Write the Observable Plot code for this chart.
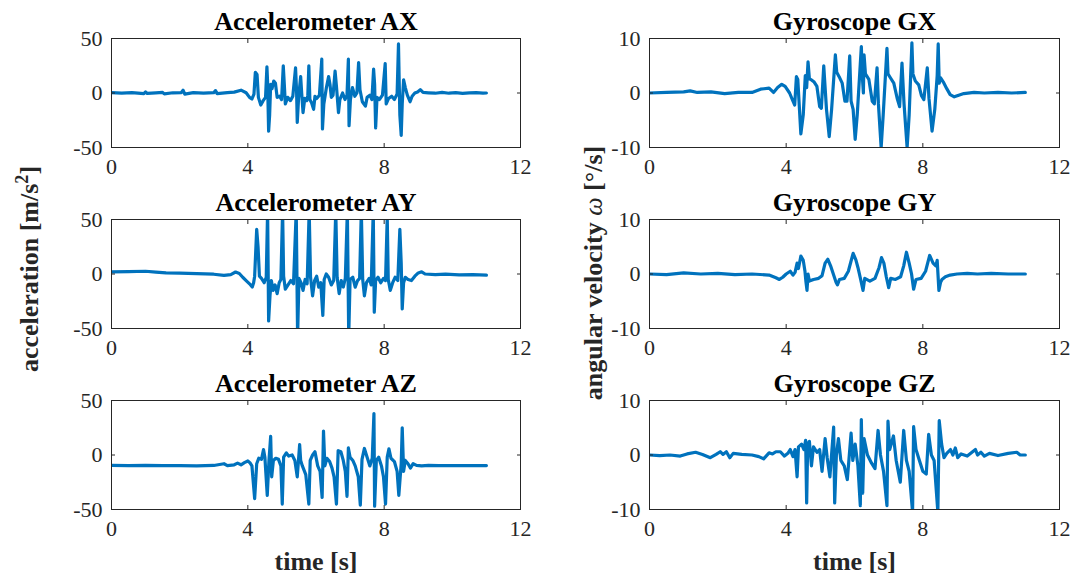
<!DOCTYPE html>
<html>
<head>
<meta charset="utf-8">
<script src="https://cdn.jsdelivr.net/npm/d3@7"></script>
<script src="https://cdn.jsdelivr.net/npm/@observablehq/plot@0.6"></script>
<style>
  body { margin: 0; background: #fff; font-family: "Liberation Serif", "Times New Roman", serif; }
  #fig { position: relative; width: 1072px; height: 579px; background: #fff;
         font-family: "Liberation Serif", "Times New Roman", serif; color: #262626; }
  #fig svg, #fig svg text { font-family: "Liberation Serif", "Times New Roman", serif !important; }
  .panel { position: absolute; }
  .ylabel { position: absolute; white-space: nowrap; font-weight: bold; font-size: 26px;
            font-family: "Liberation Serif", "Times New Roman", serif;
            line-height: 1; transform: translate(-50%, -50%) rotate(-90deg); }
  .ylabel sup { font-size: 0.7em; line-height: 0; vertical-align: 0.55em; }
  .ylabel i { font-weight: normal; }
</style>
</head>
<body>
<div id="fig"></div>
<script>
// IMU recording: time [s] vs. sensor reading, [t, value] pairs per channel.
const accX = [
  [0,0.3],[0.3,-0.2],[0.6,0.3],[0.95,-0.6],[1.0,1.0],[1.05,-0.4],[1.3,0.2],[1.5,0.5],[1.55,-0.8],[1.8,0.2],
  [2.05,0.4],[2.1,2.5],[2.15,-1.0],[2.4,0.3],[2.7,-0.2],[3.0,0.3],[3.05,2.2],[3.1,-0.6],[3.4,0.4],[3.6,0.8],
  [3.8,2.6],[3.95,0.2],[4.05,-4],[4.12,-5.5],[4.18,-1],[4.22,19],[4.27,17],[4.31,-4],[4.38,-11],[4.45,-7],
  [4.52,-4],[4.56,24],[4.58,10],[4.61,-35],[4.64,-20],[4.67,8],[4.71,4],[4.76,11],[4.81,9],[4.86,-4],
  [4.93,-3],[4.99,-6],[5.04,25],[5.07,8],[5.1,-10],[5.17,-4],[5.25,-7],[5.32,-3],[5.4,23],[5.43,2],
  [5.45,-27],[5.49,-4],[5.55,15],[5.58,0],[5.62,-18],[5.67,-5],[5.73,-7],[5.76,-2],[5.79,25],[5.82,-6],
  [5.87,-9],[5.93,-15],[5.97,-3],[6.02,-5],[6.1,-2],[6.17,31],[6.19,-33],[6.23,-10],[6.3,4],[6.37,15],
  [6.41,8],[6.45,-4],[6.5,-2],[6.56,20],[6.6,6],[6.66,-18],[6.7,-6],[6.78,0],[6.85,-6],[6.91,-2],
  [6.95,31],[6.97,-30],[7.01,-6],[7.07,5],[7.14,-3],[7.2,0],[7.25,28],[7.29,3],[7.36,-8],[7.45,-12],
  [7.5,-4],[7.58,-2],[7.64,-6],[7.69,22],[7.72,8],[7.75,-32],[7.79,-4],[7.86,-6],[7.95,-2],[8.03,27],
  [8.06,-10],[8.13,-5],[8.22,-3],[8.3,-6],[8.38,-1],[8.42,45],[8.46,-20],[8.5,-39],[8.53,-10],[8.57,12],
  [8.62,5],[8.68,-2],[8.76,-8],[8.82,-3],[8.9,0],[8.98,1],[9.06,3],[9.14,0.5],[9.3,0.2],[9.5,-0.2],
  [9.7,0.5],[9.9,-0.2],[10.1,0.3],[10.3,-0.3],[10.5,0.2],[10.7,0.3],[10.9,-0.2],[11.0,0]
];
const accY = [
  [0,2],[0.5,2.2],[1.0,2.5],[1.3,1.8],[1.6,1],[2.0,0.8],[2.5,0.3],[3.0,-0.2],[3.3,-1.2],[3.5,-0.5],
  [3.64,1.8],[3.75,0.5],[3.85,-3],[3.95,-6],[4.05,-9],[4.13,-12],[4.17,-8],[4.2,-2],[4.26,41],[4.3,25],
  [4.34,-2],[4.4,-4],[4.48,-8],[4.54,-3],[4.58,58],[4.61,-43],[4.65,-20],[4.69,-6],[4.74,-15],[4.8,-10],
  [4.86,-18],[4.92,-8],[4.97,-5],[5.02,58],[5.05,-2],[5.1,-14],[5.18,-10],[5.26,-6],[5.34,-9],[5.42,58],
  [5.46,-58],[5.5,-4],[5.56,-8],[5.62,-15],[5.68,-5],[5.74,-9],[5.8,58],[5.84,-3],[5.9,-20],[5.96,-6],
  [6.02,-2],[6.08,-12],[6.14,-8],[6.2,-38],[6.24,-5],[6.3,0],[6.37,-3],[6.45,-10],[6.52,-6],[6.58,58],
  [6.62,-3],[6.68,-18],[6.74,-6],[6.8,-12],[6.86,-4],[6.92,58],[6.96,-58],[7.0,-5],[7.08,-3],[7.15,-12],
  [7.22,-6],[7.28,-4],[7.33,58],[7.37,-5],[7.42,-20],[7.48,-8],[7.56,-4],[7.62,-10],[7.68,58],[7.71,-35],
  [7.75,-6],[7.82,-3],[7.9,-8],[7.98,-4],[8.04,-6],[8.09,52],[8.12,-5],[8.18,-15],[8.25,-8],[8.32,-3],
  [8.4,-6],[8.46,41],[8.5,10],[8.53,-32],[8.57,-8],[8.62,-3],[8.7,-5],[8.8,-6],[8.9,-2],[9.0,1],
  [9.1,2],[9.2,0],[9.5,-0.5],[9.8,-0.2],[10.2,-0.8],[10.6,-0.5],[11,-1]
];
const accZ = [
  [0,-9.6],[0.5,-9.8],[1.0,-9.5],[1.5,-9.8],[2.0,-9.7],[2.5,-9.9],[3.0,-9.6],[3.3,-8],[3.4,-9.7],[3.6,-9],
  [3.7,-7.5],[3.8,-9],[3.9,-7],[4.0,-5.5],[4.06,-7],[4.12,-10],[4.2,-40],[4.26,-8],[4.32,-3],[4.4,-4],
  [4.46,5],[4.5,-2],[4.57,-37],[4.62,-5],[4.67,17],[4.7,-20],[4.75,-5],[4.82,-3],[4.9,-4],[4.97,-10],
  [5.01,-45],[5.05,-2],[5.13,2],[5.2,-1],[5.3,0],[5.38,-5],[5.45,-20],[5.52,9.6],[5.55,-5],[5.6,-10],
  [5.7,-18],[5.79,-45],[5.83,-5],[5.9,0],[5.97,3],[6.05,-10],[6.12,-15],[6.18,-39],[6.22,22],[6.26,-10],
  [6.32,-3],[6.4,-6],[6.47,-12],[6.53,-20],[6.6,-45],[6.65,4],[6.73,3],[6.8,-5],[6.86,-15],[6.91,-38],
  [6.95,6.5],[7.0,-2],[7.08,-5],[7.15,-10],[7.24,-20],[7.3,-46],[7.35,-4],[7.42,6],[7.5,-2],[7.58,-10],
  [7.65,-3],[7.7,38],[7.72,-47],[7.77,-5],[7.84,-2],[7.92,-10],[7.98,-20],[8.04,-45],[8.09,-2],[8.14,5.6],
  [8.2,-3],[8.3,-6],[8.38,-15],[8.43,-37],[8.5,-8],[8.53,25],[8.57,-15],[8.62,-5],[8.7,-8],[8.77,-12],
  [8.85,-8],[8.95,-9.5],[9.1,-10],[9.3,-9.6],[9.6,-9.8],[10,-9.7],[10.5,-9.8],[11,-9.7]
];
const gyroX = [
  [0,0],[0.5,0.1],[1.0,0.2],[1.19,0.4],[1.4,0.1],[1.8,0.2],[2.2,-0.1],[2.6,0.1],[3.0,0.1],[3.25,0.7],
  [3.5,0.9],[3.63,0.1],[3.75,1.0],[3.87,1.6],[3.97,1.2],[4.1,0],[4.2,-1.5],[4.25,-2.2],[4.3,3],[4.34,2.5],
  [4.43,-7.5],[4.5,-4],[4.56,3.2],[4.6,1],[4.64,5.7],[4.68,2.6],[4.74,2.4],[4.82,2.0],[4.9,1.2],[4.98,-2.5],
  [5.03,-2.8],[5.1,5.0],[5.18,-3],[5.26,-8.0],[5.33,-3],[5.44,7.0],[5.48,3.8],[5.55,3.0],[5.64,1.8],[5.72,-1.5],
  [5.78,-1.5],[5.86,6.8],[5.9,-1.5],[5.96,-3],[6.02,-8.5],[6.08,-4],[6.2,8.5],[6.23,3],[6.26,0],[6.28,7.0],
  [6.32,3.5],[6.42,2.5],[6.52,-1.5],[6.58,-2],[6.66,4.6],[6.7,-2],[6.78,-10],[6.84,-4],[6.95,8.2],[6.98,3.5],
  [7.05,2.8],[7.15,1.8],[7.25,-1],[7.32,-2.5],[7.39,5.5],[7.45,-2],[7.54,-10],[7.6,-4],[7.68,9.2],[7.71,3.5],
  [7.78,2.2],[7.88,1.5],[7.96,-0.5],[8.03,-1.2],[8.13,4.6],[8.18,-1],[8.27,-7],[8.35,-3],[8.42,3.2],[8.45,9.0],
  [8.48,1.8],[8.52,2.8],[8.6,2.0],[8.7,0.8],[8.8,-0.3],[8.92,-0.7],[9.05,-0.4],[9.2,-0.1],[9.5,0.1],[9.8,0],
  [10.2,0.1],[10.6,0],[11,0.1]
];
const gyroY = [
  [0,0],[0.5,-0.1],[1.0,0.2],[1.5,0],[2.0,0.1],[2.5,-0.1],[3.0,0],[3.5,-0.2],[3.7,-0.7],[3.8,-1.0],
  [3.9,-0.6],[4.0,0],[4.12,0.5],[4.2,-0.2],[4.26,0.3],[4.32,2.0],[4.36,1.0],[4.43,3.3],[4.5,2.5],[4.55,0.5],
  [4.58,-1.5],[4.61,-3],[4.64,0],[4.68,-1.3],[4.8,-1.0],[4.95,-0.8],[5.05,-0.3],[5.14,2.0],[5.22,2.7],[5.3,1.5],
  [5.38,0],[5.46,-1.5],[5.5,-2],[5.56,-1],[5.7,-0.8],[5.82,0.5],[5.96,3.8],[6.04,2.6],[6.1,1.2],[6.18,-1],
  [6.25,-3],[6.3,-0.8],[6.45,-1.3],[6.6,-0.8],[6.72,1.2],[6.79,3.0],[6.86,2.0],[6.93,-0.5],[7.0,-2.5],[7.06,-0.8],
  [7.2,-1.0],[7.35,-0.5],[7.44,1.5],[7.52,4.0],[7.6,2.0],[7.67,0],[7.73,-2.8],[7.8,-1.0],[7.95,-0.8],[8.08,0.5],
  [8.2,3.4],[8.3,2.0],[8.38,1.5],[8.42,2.5],[8.47,-3.0],[8.52,-1.5],[8.56,-1.0],[8.66,-0.5],[8.8,-0.2],[9.0,0],
  [9.3,0.1],[9.6,0],[10.0,0.1],[10.5,0],[11,0]
];
const gyroZ = [
  [0,0],[0.3,-0.1],[0.6,0],[0.9,-0.2],[1.1,0.2],[1.35,0.5],[1.55,0.1],[1.78,-0.5],[1.95,0.1],[2.07,0.6],
  [2.15,0.1],[2.25,0.6],[2.35,-0.5],[2.45,0.3],[2.7,0.1],[3.0,0],[3.2,-0.3],[3.34,-0.7],[3.5,0.4],[3.6,0.2],
  [3.7,0.6],[3.83,0.6],[3.95,-0.2],[4.05,0.3],[4.12,1.0],[4.2,-0.3],[4.26,1.0],[4.32,-4],[4.36,1.5],[4.45,2.0],
  [4.52,1.0],[4.57,2.7],[4.6,-8.8],[4.63,2.0],[4.68,2.5],[4.74,-2],[4.8,1.5],[4.9,0.5],[4.98,1.0],[5.05,-3],
  [5.14,3.0],[5.2,-0.5],[5.28,-4],[5.34,1],[5.39,5.1],[5.42,-8.8],[5.47,0],[5.53,3.0],[5.6,-1],[5.7,-2],
  [5.79,-4.5],[5.9,4.0],[5.95,-1],[6.02,2.0],[6.1,-2],[6.17,-9.3],[6.2,6.5],[6.24,-7],[6.28,3],[6.38,0],
  [6.5,-1.5],[6.6,-2.5],[6.69,4.5],[6.76,0],[6.85,-3],[6.95,-9.3],[6.98,6.2],[7.03,1],[7.14,3.5],[7.22,-1],
  [7.34,-5],[7.44,4.5],[7.52,-1],[7.6,-3],[7.7,-10.5],[7.73,5.2],[7.8,1],[7.9,-1],[8.0,-3],[8.1,-3.5],
  [8.17,3.8],[8.25,0],[8.33,-1],[8.44,-10.5],[8.48,6.3],[8.55,2],[8.62,-0.5],[8.7,0.3],[8.81,1],[8.88,0],
  [8.95,1.3],[9.02,-0.5],[9.12,0.2],[9.3,-0.2],[9.54,1.0],[9.6,0],[9.7,0.5],[9.8,-0.2],[9.95,0.3],[10.2,-0.1],
  [10.5,0.3],[10.75,0.5],[10.85,0],[11,0]
];

// Axis ticks
const timeTicks = [0, 4, 8, 12];
const accTicks = [-50, 0, 50];
const gyroTicks = [-10, 0, 10];

// Panel titles and axis labels
const accTitles = ["Accelerometer AX", "Accelerometer AY", "Accelerometer AZ"];
const gyroTitles = ["Gyroscope GX", "Gyroscope GY", "Gyroscope GZ"];
const timeLabel = "time [s]";

const fig = document.getElementById("fig");
const FRAME_H = 109, ROW_STEP = 181, TOP = 38;
const FONT = "'Liberation Serif', 'Times New Roman', serif";
const INK = "#262626";

function panel({data, title, domain, ticks, left, marginLeft, frameW, width, row}) {
  const last = row === 2;
  const marginBottom = last ? 70 : 30;
  const fmt = d => String(d);
  const chart = Plot.plot({
    width,
    height: TOP + FRAME_H + marginBottom,
    marginTop: TOP, marginBottom, marginLeft,
    marginRight: width - marginLeft - frameW,
    style: {fontFamily: FONT, fontSize: "22px", color: INK, background: "transparent", overflow: "visible"},
    x: {domain: [0, 12]},
    y: {domain},
    marks: [
      Plot.line(data, {x: d => d[0], y: d => d[1], stroke: "#0072BD", strokeWidth: 3.2, clip: true, strokeLinejoin: "round"}),
      Plot.frame({stroke: INK, strokeWidth: 1}),
      Plot.axisX({ticks: timeTicks, tickSize: -4, tickPadding: 15, tickFormat: fmt, label: null, stroke: INK, fontFamily: FONT}),
      Plot.axisX({anchor: "top", ticks: timeTicks, tickSize: -4, tickFormat: () => "", label: null, stroke: INK}),
      Plot.axisY({ticks, tickSize: -4, tickPadding: 13, tickFormat: fmt, label: null, stroke: INK, fontFamily: FONT}),
      Plot.axisY({anchor: "right", ticks, tickSize: -4, tickFormat: () => "", label: null, stroke: INK}),
      Plot.text([title], {text: d => d, frameAnchor: "top", lineAnchor: "bottom", dy: -9,
        fontSize: 26, fontWeight: "bold", fill: "#000", fontFamily: FONT}),
      last ? Plot.text([timeLabel], {text: d => d, frameAnchor: "bottom", lineAnchor: "top", dy: 42,
        fontSize: 26, fontWeight: "bold", fill: INK, fontFamily: FONT}) : null
    ]
  });
  const div = document.createElement("div");
  div.className = "panel";
  div.style.left = left + "px";
  div.style.top = (row * ROW_STEP) + "px";
  div.appendChild(chart);
  fig.appendChild(div);
}

[accX, accY, accZ].forEach((data, row) =>
  panel({data, title: accTitles[row], domain: [-50, 50], ticks: accTicks,
         left: 0, marginLeft: 111, frameW: 409, width: 536, row}));
[gyroX, gyroY, gyroZ].forEach((data, row) =>
  panel({data, title: gyroTitles[row], domain: [-10, 10], ticks: gyroTicks,
         left: 536, marginLeft: 113, frameW: 410, width: 536, row}));

// Shared y-axis labels for each column
const yl1 = document.createElement("div");
yl1.className = "ylabel";
yl1.style.left = "30px"; yl1.style.top = "269px";
yl1.innerHTML = "acceleration [m/s<sup>2</sup>]";
fig.appendChild(yl1);

const yl2 = document.createElement("div");
yl2.className = "ylabel";
yl2.style.left = "594px"; yl2.style.top = "273px";
yl2.innerHTML = "angular velocity <i>ω</i> [°/s]";
fig.appendChild(yl2);
</script>
</body>
</html>
